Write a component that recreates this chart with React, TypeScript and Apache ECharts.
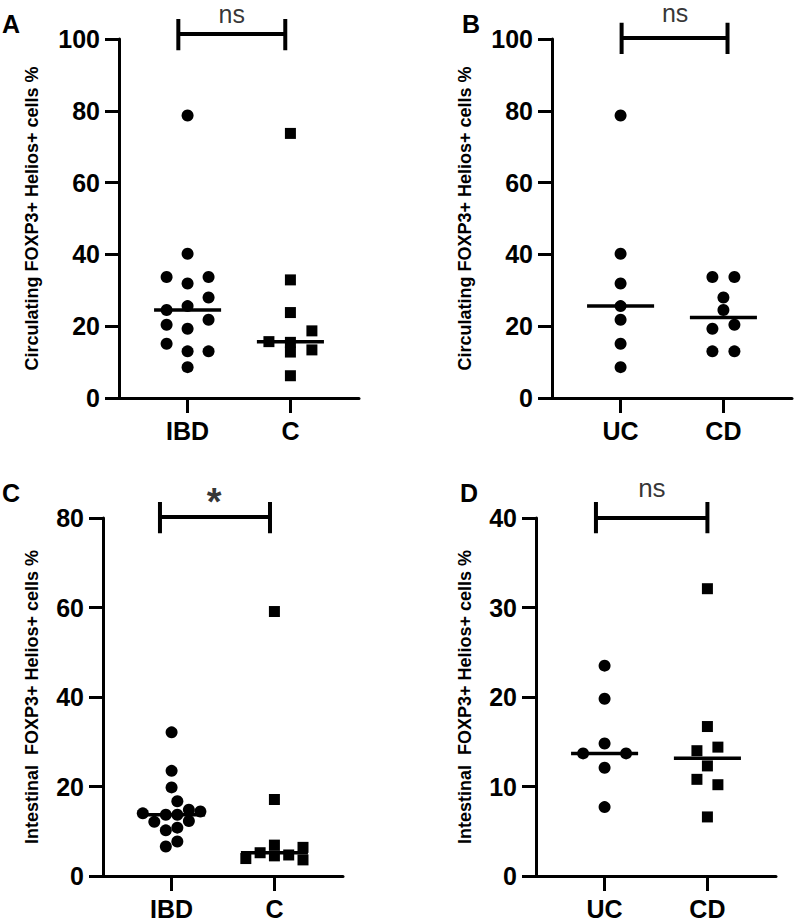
import React, { useEffect, useRef } from "react";
import * as echarts from "echarts";

// ---------- data ----------
const catsIBDvsC = ["IBD", "C"];
const catsUCvsCD = ["UC", "CD"];

// Panel A: circulating FOXP3+ Helios+ (%)
const circIBD = [78.7, 40.2, 33.7, 33.7, 31.9, 28.0, 25.6, 24.5, 21.8, 20.4, 19.3, 15.1, 13.0, 13.0, 8.6];
const circIBDCol = [0, 0, -1, 1, 0, 1, 0, -1, 1, -1, 0, -1, 0, 1, 0];
const circCtrl = [73.7, 32.9, 23.8, 18.7, 15.7, 15.5, 13.4, 12.8, 6.2];
const circCtrlCol = [0, 0, 0, 1, -1, 0, 1, 0, 0];

// Panel B: circulating, UC vs CD
const circUC = [78.7, 40.2, 31.9, 25.6, 21.8, 15.1, 8.6];
const circUCCol = [0, 0, 0, 0, 0, 0, 0];
const circCD = [33.7, 33.7, 28.0, 24.5, 20.4, 19.3, 13.0, 13.0];
const circCDCol = [-1, 1, 0, 0, 1, -1, -1, 1];

// Panel C: intestinal FOXP3+ Helios+ (%)
const intIBD = [32.1, 23.5, 19.8, 16.7, 14.8, 14.4, 14.0, 13.7, 13.7, 12.3, 12.1, 10.8, 10.2, 7.7, 6.6];
const intIBDCol = [0, 0, 0, 0.5, 1.5, 2.5, -2.5, -0.5, 0.5, 1.5, -1.5, 0.5, -0.5, 0.5, -0.5];
const intCtrl = [59.1, 17.1, 6.9, 6.4, 5.2, 4.7, 4.5, 3.9, 3.6];
const intCtrlCol = [0, 0, 0, 2, -1, 1, 0, -2, 2];

// Panel D: intestinal, UC vs CD
const intUC = [23.5, 19.8, 14.8, 13.7, 13.7, 12.1, 7.7];
const intUCCol = [0, 0, 0, -1, 1, 0, 0];
const intCD = [32.1, 16.7, 14.4, 14.0, 12.3, 10.8, 10.2, 6.6];
const intCDCol = [0, 0, 1, -1, 0, -1, 1, 0];

const yTicksCirc = { max: 100, interval: 20 };
const yTicksIntIBD = { max: 80, interval: 20 };
const yTicksIntUC = { max: 40, interval: 10 };

const sigA = "ns";
const sigB = "ns";
const sigC = "*";
const sigD = "ns";

const nameCirc = "Circulating FOXP3+ Helios+ cells %";
const nameInt = "Intestinal  FOXP3+ Helios+ cells %";

// ---------- helpers ----------
const median = (a: number[]) => {
  const s = [...a].sort((x, y) => x - y);
  const n = s.length;
  return n % 2 ? s[(n - 1) / 2] : (s[n / 2 - 1] + s[n / 2]) / 2;
};

const FONT = "'Liberation Sans', Arial, Helvetica, sans-serif";

type Group = { vals: number[]; col: number[]; step: number; sym: string; size: number };
type Panel = {
  letter: string;
  letterPos: [number, number];
  left: number;
  top: number;
  height: number;
  yMax: number;
  yInt: number;
  cats: string[];
  name: string;
  nameGap: number;
  groups: Group[];
  bracket: { x1: number; x2: number; yLow: number; yMid: number; yHigh: number };
  sig: { text: string; x: number; y: number; bold: boolean; size: number; lh: number };
};

const panels: Panel[] = [
  {
    letter: "A", letterPos: [2, 11],
    left: 119, top: 39, height: 359, yMax: yTicksCirc.max, yInt: yTicksCirc.interval,
    cats: catsIBDvsC, name: nameCirc, nameGap: 78,
    groups: [
      { vals: circIBD, col: circIBDCol, step: 0.204, sym: "circle", size: 12 },
      { vals: circCtrl, col: circCtrlCol, step: 0.209, sym: "rect", size: 11 },
    ],
    bracket: { x1: -0.09, x2: 0.95, yLow: 96.9, yMid: 101.4, yHigh: 105.6 },
    sig: { text: sigA, x: 0.43, y: 107.0, bold: false, size: 25, lh: 14 },
  },
  {
    letter: "B", letterPos: [462, 11],
    left: 552, top: 39, height: 359, yMax: yTicksCirc.max, yInt: yTicksCirc.interval,
    cats: catsUCvsCD, name: nameCirc, nameGap: 78,
    groups: [
      { vals: circUC, col: circUCCol, step: 0.107, sym: "circle", size: 12 },
      { vals: circCD, col: circCDCol, step: 0.107, sym: "circle", size: 12 },
    ],
    bracket: { x1: 0.01, x2: 1.04, yLow: 95.8, yMid: 100.3, yHigh: 104.5 },
    sig: { text: sigB, x: 0.53, y: 107.2, bold: false, size: 25, lh: 14 },
  },
  {
    letter: "C", letterPos: [2, 480],
    left: 103, top: 518, height: 358, yMax: yTicksIntIBD.max, yInt: yTicksIntIBD.interval,
    cats: catsIBDvsC, name: nameInt, nameGap: 62,
    groups: [
      { vals: intIBD, col: intIBDCol, step: 0.112, sym: "circle", size: 12 },
      { vals: intCtrl, col: intCtrlCol, step: 0.139, sym: "rect", size: 11 },
    ],
    bracket: { x1: -0.113, x2: 0.957, yLow: 76.6, yMid: 80.2, yHigh: 83.6 },
    sig: { text: sigC, x: 0.413, y: 83.6, bold: true, size: 38, lh: 28 },
  },
  {
    letter: "D", letterPos: [460, 480],
    left: 536, top: 518, height: 358, yMax: yTicksIntUC.max, yInt: yTicksIntUC.interval,
    cats: catsUCvsCD, name: nameInt, nameGap: 62,
    groups: [
      { vals: intUC, col: intUCCol, step: 0.209, sym: "circle", size: 12 },
      { vals: intCD, col: intCDCol, step: 0.102, sym: "rect", size: 11 },
    ],
    bracket: { x1: -0.084, x2: 1.0, yLow: 38.3, yMid: 40.0, yHigh: 41.8 },
    sig: { text: sigD, x: 0.46, y: 43.3, bold: false, size: 26, lh: 14 },
  },
];

const X_MIN = -0.667;
const X_MAX = 1.667;
const MED_HALF = 0.326;

function buildOption() {
  const grid: any[] = [];
  const xAxis: any[] = [];
  const yAxis: any[] = [];
  const series: any[] = [];
  const graphic: any[] = [];

  panels.forEach((p, pi) => {
    grid.push({ left: p.left, top: p.top, width: 240, height: p.height, containLabel: false });
    xAxis.push({
      type: "value",
      gridIndex: pi,
      min: X_MIN,
      max: X_MAX,
      splitLine: { show: false },
      axisLine: { show: true, onZero: false, lineStyle: { color: "#000", width: 3 } },
      axisTick: { show: true, customValues: [0, 1], length: 15, lineStyle: { color: "#000", width: 3 } },
      axisLabel: {
        show: true,
        customValues: [0, 1],
        margin: 20,
        formatter: (v: number) => p.cats[Math.round(v)] ?? "",
        fontSize: 25,
        fontWeight: "bold",
        fontFamily: FONT,
        color: "#000",
      },
    });
    yAxis.push({
      type: "value",
      gridIndex: pi,
      min: 0,
      max: p.yMax,
      interval: p.yInt,
      name: p.name,
      nameLocation: "middle",
      nameRotate: 90,
      nameGap: p.nameGap,
      nameTextStyle: { fontSize: 18, fontWeight: "bold", fontFamily: FONT, color: "#000" },
      splitLine: { show: false },
      axisLine: { show: true, onZero: false, lineStyle: { color: "#000", width: 3 } },
      axisTick: { show: true, length: 14, lineStyle: { color: "#000", width: 3 } },
      axisLabel: { fontSize: 25, fontWeight: "bold", fontFamily: FONT, color: "#000", margin: 19 },
    });

    p.groups.forEach((g, gi) => {
      series.push({
        type: "scatter",
        xAxisIndex: pi,
        yAxisIndex: pi,
        symbol: g.sym,
        symbolSize: g.size,
        itemStyle: { color: "#000", opacity: 1 },
        clip: false,
        data: g.vals.map((v, i) => [gi + g.col[i] * g.step, v]),
        z: 3,
      });
      const m = median(g.vals);
      series.push({
        type: "line",
        xAxisIndex: pi,
        yAxisIndex: pi,
        symbol: "none",
        lineStyle: { color: "#000", width: 3.5 },
        data: [
          [gi - MED_HALF, m],
          [gi + MED_HALF, m],
        ],
        z: 4,
      });
    });

    const b = p.bracket;
    series.push({
      type: "line",
      xAxisIndex: pi,
      yAxisIndex: pi,
      symbol: "none",
      clip: false,
      lineStyle: { color: "#000", width: 4, cap: "butt", join: "miter" },
      data: [
        [b.x1, b.yLow],
        [b.x1, b.yHigh],
        [b.x1, b.yMid],
        [b.x2, b.yMid],
        [b.x2, b.yHigh],
        [b.x2, b.yLow],
      ],
    });
    series.push({
      type: "scatter",
      xAxisIndex: pi,
      yAxisIndex: pi,
      symbol: "circle",
      symbolSize: 1,
      clip: false,
      itemStyle: { color: "rgba(0,0,0,0)" },
      silent: true,
      label: {
        show: true,
        position: "inside",
        formatter: p.sig.text,
        fontSize: p.sig.size,
        lineHeight: p.sig.lh,
        fontWeight: p.sig.bold ? "bold" : "normal",
        fontFamily: FONT,
        color: "#000",
      },
      data: [[p.sig.x, p.sig.y]],
    });

    graphic.push({
      type: "text",
      left: p.letterPos[0],
      top: p.letterPos[1],
      style: { text: p.letter, font: `bold 25px ${FONT}`, fill: "#000" },
    });
  });

  return {
    animation: false,
    backgroundColor: "#fff",
    grid,
    xAxis,
    yAxis,
    series,
    graphic,
  };
}

export default function App() {
  const ref = useRef<HTMLDivElement>(null);
  useEffect(() => {
    if (!ref.current) return;
    const chart = echarts.init(ref.current, undefined, { renderer: "svg" });
    chart.setOption(buildOption() as any);
    return () => chart.dispose();
  }, []);
  return (
    <div
      ref={ref}
      style={{ position: "absolute", left: 0, top: 0, width: 795, height: 921, background: "#fff" }}
    />
  );
}
